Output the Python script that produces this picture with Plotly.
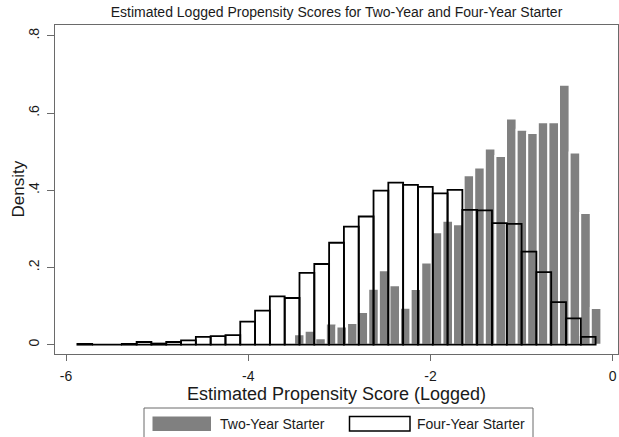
import plotly.graph_objects as go

# ---- data (histogram densities) ----
two_year_name = "Two-Year Starter"
two_year_bin_start = -3.497
two_year_bin_width = 0.1163
two_year_density = [0.027, 0.036, 0.017, 0.055, 0.047, 0.056, 0.085, 0.145, 0.193, 0.154,
                    0.096, 0.144, 0.213, 0.291, 0.321, 0.312, 0.439, 0.459, 0.508, 0.489,
                    0.586, 0.557, 0.548, 0.576, 0.576, 0.673, 0.498, 0.341, 0.095]

four_year_name = "Four-Year Starter"
four_year_bin_start = -5.875
four_year_bin_width = 0.1625
four_year_density = [0.002, 0.0, 0.0, 0.002, 0.007, 0.003, 0.007, 0.011, 0.020, 0.022,
                     0.025, 0.060, 0.088, 0.125, 0.121, 0.186, 0.209, 0.264, 0.306, 0.332,
                     0.399, 0.420, 0.414, 0.409, 0.392, 0.401, 0.349, 0.348, 0.315, 0.313,
                     0.241, 0.188, 0.110, 0.068, 0.020]

x_tick_vals = [-6, -4, -2, 0]
x_tick_text = ["-6", "-4", "-2", "0"]
y_tick_vals = [0, 0.2, 0.4, 0.6, 0.8]
y_tick_text = ["0", ".2", ".4", ".6", ".8"]

title_text = "Estimated Logged Propensity Scores for Two-Year and Four-Year Starter"
x_title = "Estimated Propensity Score (Logged)"
y_title = "Density"

# ---- layout constants (pixels) ----
W, H = 619, 437
L, R, T, B = 55, 618, 25, 354
FONT = "Liberation Sans, Arial, sans-serif"
GRAY = "#808080"
AXIS = "#6a6a6a"


def px_x(p):
    return (p - L) / (R - L)


def px_y(p):
    return (B - p) / (B - T)


def centers(start, width, n):
    return [start + (i + 0.5) * width for i in range(n)]


fig = go.Figure()
fig.add_trace(go.Bar(
    x=centers(two_year_bin_start, two_year_bin_width, len(two_year_density)),
    y=two_year_density, width=two_year_bin_width, name=two_year_name,
    marker=dict(color=GRAY, line=dict(color="white", width=2)),
    showlegend=False,
))
fig.add_trace(go.Bar(
    x=centers(four_year_bin_start, four_year_bin_width, len(four_year_density)),
    y=four_year_density, width=four_year_bin_width, name=four_year_name,
    marker=dict(color="rgba(0,0,0,0)", line=dict(color="black", width=1.8)),
    showlegend=False,
))

fig.update_layout(
    width=W, height=H,
    margin=dict(l=L, r=W - R, t=T, b=H - B, pad=0),
    paper_bgcolor="white", plot_bgcolor="white",
    barmode="overlay",
    font=dict(family=FONT, color="#1a1a1a", size=14),
    title=dict(text=title_text, x=(L + R) / 2 / W, xanchor="center", xref="container",
               y=1 - 12 / H, yanchor="middle", yref="container",
               font=dict(size=14, family=FONT, color="#1a1a1a")),
)
fig.update_xaxes(
    range=[-6.1207, 0.058], tickvals=x_tick_vals, ticktext=x_tick_text,
    showgrid=False, zeroline=False, showline=True, linecolor=AXIS, linewidth=1.3,
    mirror=True, ticks="outside", ticklen=6, tickcolor=AXIS, tickwidth=1,
    tickfont=dict(size=14), ticklabelstandoff=3,
    title=dict(text=x_title, font=dict(size=18), standoff=2),
)
fig.update_yaxes(
    range=[-0.0241, 0.828], tickvals=y_tick_vals, ticktext=y_tick_text,
    showgrid=False, zeroline=False, showline=True, linecolor=AXIS, linewidth=1.3,
    mirror=True, ticks="outside", ticklen=7, tickcolor=AXIS, tickwidth=1,
    tickangle=-90, tickfont=dict(size=14), ticklabelstandoff=2,
)

# ---- custom legend (Stata style) ----
shapes = [
    dict(type="rect", xref="paper", yref="paper",
         x0=px_x(144), x1=px_x(533), y0=px_y(438), y1=px_y(408),
         line=dict(color=AXIS, width=1), fillcolor="white", layer="above"),
    dict(type="rect", xref="paper", yref="paper",
         x0=px_x(152.5), x1=px_x(211), y0=px_y(431), y1=px_y(416.5),
         line=dict(width=0), fillcolor=GRAY, layer="above"),
    dict(type="rect", xref="paper", yref="paper",
         x0=px_x(349.5), x1=px_x(410), y0=px_y(431), y1=px_y(416.5),
         line=dict(color="black", width=1.5), fillcolor="white", layer="above"),
]
annotations = [
    dict(text=y_title, xref="paper", yref="paper", x=px_x(18), y=px_y(189.5),
         xanchor="center", yanchor="middle", textangle=-90, showarrow=False,
         font=dict(size=17)),
    dict(text=two_year_name, xref="paper", yref="paper", x=px_x(218), y=px_y(424),
         xanchor="left", yanchor="middle", showarrow=False, font=dict(size=14)),
    dict(text=four_year_name, xref="paper", yref="paper", x=px_x(415), y=px_y(424),
         xanchor="left", yanchor="middle", showarrow=False, font=dict(size=14)),
]
fig.update_layout(shapes=shapes, annotations=annotations)

fig.write_html("out.html", config={"displayModeBar": False},
               post_script="document.body.style.margin='0px';")
